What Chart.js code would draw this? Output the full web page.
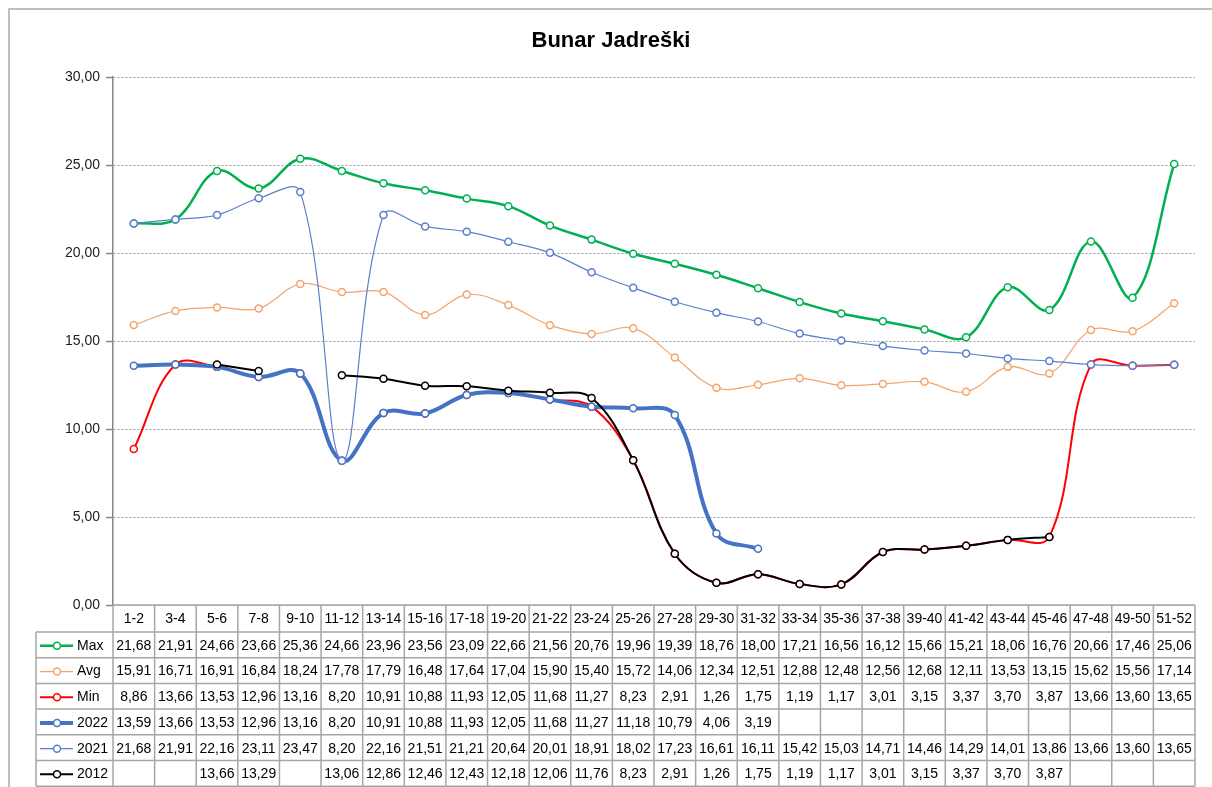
<!DOCTYPE html>
<html>
<head>
<meta charset="utf-8">
<title>Bunar Jadreški</title>
<script src="https://cdn.jsdelivr.net/npm/chart.js@4.4.1/dist/chart.umd.min.js"></script>
<style>
    html, body { margin: 0; padding: 0; background: #fff; }
    canvas { display: block; }
</style>
</head>
<body>
<canvas id="chart" width="1212" height="787"></canvas>
<script>
// =============================================
// Bunar Jadreški — razina vode po tjednima
// =============================================
const weeks = ['1-2', '3-4', '5-6', '7-8', '9-10', '11-12', '13-14', '15-16', '17-18', '19-20', '21-22', '23-24', '25-26',
    '27-28', '29-30', '31-32', '33-34', '35-36', '37-38', '39-40', '41-42', '43-44', '45-46', '47-48', '49-50', '51-52'];

const maxVals = [21.68, 21.91, 24.66, 23.66, 25.36, 24.66, 23.96, 23.56, 23.09, 22.66, 21.56, 20.76, 19.96,
    19.39, 18.76, 18.00, 17.21, 16.56, 16.12, 15.66, 15.21, 18.06, 16.76, 20.66, 17.46, 25.06];
const avgVals = [15.91, 16.71, 16.91, 16.84, 18.24, 17.78, 17.79, 16.48, 17.64, 17.04, 15.90, 15.40, 15.72,
    14.06, 12.34, 12.51, 12.88, 12.48, 12.56, 12.68, 12.11, 13.53, 13.15, 15.62, 15.56, 17.14];
const minVals = [8.86, 13.66, 13.53, 12.96, 13.16, 8.20, 10.91, 10.88, 11.93, 12.05, 11.68, 11.27, 8.23,
    2.91, 1.26, 1.75, 1.19, 1.17, 3.01, 3.15, 3.37, 3.70, 3.87, 13.66, 13.60, 13.65];
const vals2022 = [13.59, 13.66, 13.53, 12.96, 13.16, 8.20, 10.91, 10.88, 11.93, 12.05, 11.68, 11.27, 11.18,
    10.79, 4.06, 3.19, null, null, null, null, null, null, null, null, null, null];
const vals2021 = [21.68, 21.91, 22.16, 23.11, 23.47, 8.20, 22.16, 21.51, 21.21, 20.64, 20.01, 18.91, 18.02,
    17.23, 16.61, 16.11, 15.42, 15.03, 14.71, 14.46, 14.29, 14.01, 13.86, 13.66, 13.60, 13.65];
const vals2012 = [null, null, 13.66, 13.29, null, 13.06, 12.86, 12.46, 12.43, 12.18, 12.06, 11.76, 8.23,
    2.91, 1.26, 1.75, 1.19, 1.17, 3.01, 3.15, 3.37, 3.70, 3.87, null, null, null];

const yTicks = [0, 5, 10, 15, 20, 25, 30];

const FONT = '"Liberation Sans", Arial, sans-serif';
const fmt = v => v.toFixed(2).replace('.', ',');

function series(label, data, color, width, order) {
    return {
        label, data, order,
        borderColor: color,
        borderWidth: width,
        backgroundColor: '#fff',
        pointBackgroundColor: '#fff',
        pointBorderColor: color,
        pointBorderWidth: 1.5,
        pointRadius: 3.5,
        tension: 0.38,
        fill: false,
        spanGaps: false,
    };
}

const datasets = [
    series('Max', maxVals, '#00b050', 2.5, 5),
    series('Avg', avgVals, '#f4a46c', 1.2, 4),
    series('Min', minVals, '#ff0000', 2, 3),
    series('2022', vals2022, '#4472c4', 4, 2),
    series('2021', vals2021, '#5b7fcc', 1.2, 1),
    series('2012', vals2012, '#000000', 2, 0),
];

// okvir, naslov i tablica podataka ispod grafa
const tablePlugin = {
    id: 'dataTable',
    beforeDraw(chart) {
        const { ctx } = chart;
        ctx.save();
        ctx.strokeStyle = '#bfbfbf';
        ctx.lineWidth = 2;
        ctx.strokeRect(9, 9, 1260, 840);
        ctx.restore();
    },
    afterDraw(chart) {
        const { ctx, chartArea } = chart;
        const left = chartArea.left, right = chartArea.right, top = chartArea.bottom;
        const colW = (right - left) / weeks.length;
        const headH = 27, rowH = 25.7, legLeft = 36;
        const rowsTop = top + headH;
        const nRows = datasets.length;
        const bottom = rowsTop + rowH * nRows;

        ctx.save();
        // naslov
        ctx.fillStyle = '#000';
        ctx.font = 'bold 22px ' + FONT;
        ctx.textAlign = 'center';
        ctx.textBaseline = 'middle';
        ctx.fillText('Bunar Jadreški', 611, 41);

        // mreža tablice
        ctx.strokeStyle = '#a6a6a6';
        ctx.lineWidth = 1.5;
        ctx.beginPath();
        ctx.moveTo(left, top); ctx.lineTo(right, top);
        for (let r = 0; r <= nRows; r++) {
            const y = rowsTop + r * rowH;
            ctx.moveTo(legLeft, y); ctx.lineTo(right, y);
        }
        for (let i = 0; i <= weeks.length; i++) {
            const x = left + i * colW;
            ctx.moveTo(x, top); ctx.lineTo(x, bottom);
        }
        ctx.moveTo(legLeft, rowsTop); ctx.lineTo(legLeft, bottom);
        ctx.stroke();

        // zaglavlje
        ctx.fillStyle = '#000';
        ctx.font = '14px ' + FONT;
        weeks.forEach((w, i) => {
            const x = chart.scales.x.getPixelForValue(i);
            ctx.fillText(w, x, top + headH / 2 + 1);
        });

        // redovi
        datasets.forEach((ds, r) => {
            const cy = rowsTop + r * rowH + rowH / 2 + 1;
            // legenda
            ctx.strokeStyle = ds.borderColor;
            ctx.lineWidth = ds.borderWidth;
            ctx.beginPath();
            ctx.moveTo(40, cy); ctx.lineTo(73, cy);
            ctx.stroke();
            ctx.beginPath();
            ctx.arc(57, cy, 3.5, 0, Math.PI * 2);
            ctx.fillStyle = '#fff';
            ctx.fill();
            ctx.lineWidth = 1.5;
            ctx.stroke();
            ctx.fillStyle = '#000';
            ctx.textAlign = 'left';
            ctx.fillText(ds.label, 77, cy);
            ctx.textAlign = 'center';
            ds.data.forEach((v, i) => {
                if (v === null) return;
                ctx.fillText(fmt(v), chart.scales.x.getPixelForValue(i), cy);
            });
        });
        ctx.restore();
    }
};

new Chart(document.getElementById('chart').getContext('2d'), {
    type: 'line',
    data: { labels: weeks, datasets },
    options: {
        responsive: false,
        animation: false,
        layout: { padding: { left: 0, top: 77, right: 17, bottom: 0 } },
        plugins: { legend: { display: false }, tooltip: { enabled: false } },
        scales: {
            x: {
                type: 'category',
                offset: true,
                ticks: { display: false },
                grid: { display: false },
                border: { display: false },
                afterFit: s => { s.height = 182; }
            },
            y: {
                min: 0,
                max: 30,
                afterBuildTicks: s => { s.ticks = yTicks.map(v => ({ value: v })); },
                afterFit: s => { s.width = 113; },
                ticks: {
                    callback: v => fmt(v),
                    color: '#222',
                    padding: 6,
                    font: { size: 14, family: FONT }
                },
                grid: {
                    color: '#9a9a9a',
                    lineWidth: 1,
                    tickLength: 7,
                    tickColor: '#868686',
                    tickBorderDash: [],
                    tickWidth: 1.5
                },
                // in v4 border.dash styles the grid lines
                border: { display: true, color: '#868686', width: 1.5, dash: [2, 2] }
            }
        }
    },
    plugins: [tablePlugin]
});
</script>
</body>
</html>
